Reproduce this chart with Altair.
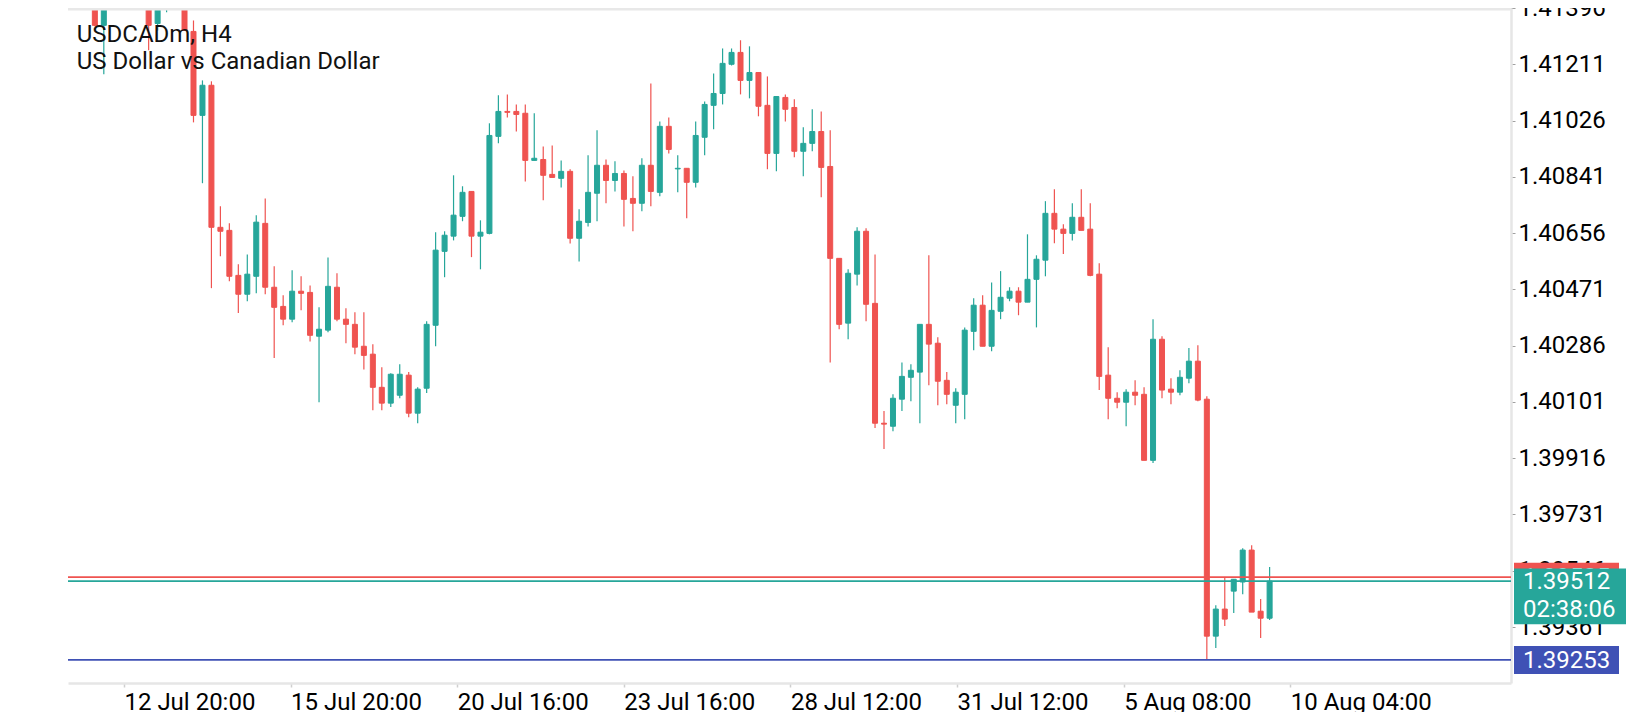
import altair as alt
import pandas as pd

symbol = "USDCADm, H4"
description = "US Dollar vs Canadian Dollar"

# OHLC in points (1 point = 0.00001)
opens = [141487, 141339, 141454, 141552, 141493, 141579, 141447, 141345, 141441, 141506,
         141441, 141319, 141043, 141142, 140675, 140665, 140517, 140455, 140514, 140688,
         140478, 140415, 140373, 140465, 140461, 140317, 140337, 140478, 140373, 140356,
         140284, 140258, 140149, 140097, 140123, 140189, 140064, 140146, 140353, 140596,
         140646, 140711, 140793, 140646, 140655, 140974, 141056, 141056, 141050, 140895,
         140898, 140849, 140836, 140859, 140639, 140691, 140787, 140879, 140829, 140852,
         140770, 140754, 140879, 140790, 141007, 140867, 140869, 140823, 140971, 141076,
         141115, 141211, 141250, 141158, 141184, 141076, 140918, 141102, 141069, 140925,
         140951, 140990, 140875, 140573, 140360, 140521, 140662, 140425, 140031, 140021,
         140110, 140182, 140199, 140356, 140294, 140172, 140090, 140126, 140333, 140419,
         140284, 140399, 140442, 140465, 140429, 140504, 140567, 140721, 140669, 140655,
         140708, 140669, 140521, 140189, 140113, 140100, 140133, 140126, 139909, 140307,
         140143, 140133, 140179, 140235, 140110, 139331, 139420, 139479, 139509, 139614,
         139413, 139390]
highs = [141513, 141493, 141585, 141592, 141618, 141605, 141467, 141467, 141533, 141526,
         141460, 141355, 141158, 141155, 140744, 140688, 140554, 140586, 140715, 140770,
         140547, 140452, 140534, 140514, 140484, 140412, 140576, 140524, 140409, 140396,
         140396, 140291, 140215, 140195, 140225, 140199, 140149, 140366, 140659, 140662,
         140846, 140810, 140793, 140698, 141017, 141109, 141112, 141079, 141079, 141050,
         140941, 140944, 140895, 140866, 140734, 140912, 140994, 140898, 140892, 140862,
         140843, 140902, 141148, 141023, 141036, 140912, 140869, 141023, 141089, 141181,
         141263, 141263, 141290, 141270, 141184, 141171, 141105, 141112, 141096, 141004,
         141063, 141056, 140994, 140573, 140537, 140675, 140672, 140586, 140071, 140126,
         140231, 140225, 140356, 140583, 140314, 140199, 140146, 140346, 140442, 140452,
         140494, 140531, 140478, 140478, 140652, 140583, 140761, 140800, 140685, 140754,
         140800, 140754, 140557, 140281, 140133, 140143, 140172, 140149, 140373, 140317,
         140179, 140205, 140278, 140287, 140120, 139433, 139522, 139518, 139620, 139630,
         139453, 139558]
lows = [141336, 141178, 141441, 141460, 141480, 141434, 141257, 141322, 141382, 141428,
        141322, 141020, 140820, 140475, 140580, 140498, 140393, 140432, 140458, 140455,
        140245, 140353, 140363, 140402, 140300, 140100, 140330, 140366, 140294, 140258,
        140208, 140074, 140074, 140084, 140113, 140051, 140031, 140130, 140284, 140511,
        140632, 140695, 140577, 140537, 140652, 140951, 141036, 140990, 140826, 140895,
        140764, 140839, 140806, 140622, 140563, 140678, 140695, 140754, 140793, 140678,
        140662, 140728, 140744, 140777, 140918, 140790, 140705, 140806, 140912, 140997,
        141079, 141207, 141112, 141099, 141040, 140866, 140859, 141023, 140905, 140843,
        140925, 140774, 140231, 140340, 140307, 140484, 140366, 140015, 139946, 140005,
        140071, 140103, 140031, 140156, 140090, 140093, 140031, 140044, 140271, 140284,
        140268, 140373, 140432, 140386, 140429, 140346, 140514, 140623, 140587, 140632,
        140665, 140514, 140140, 140044, 140080, 140021, 140090, 139909, 139900, 140113,
        140093, 140123, 140162, 140103, 139253, 139292, 139364, 139407, 139469, 139410,
        139325, 139384]
closes = [141339, 141460, 141552, 141493, 141579, 141447, 141339, 141441, 141506, 141441,
          141322, 141043, 141142, 140675, 140662, 140514, 140455, 140521, 140692, 140478,
          140412, 140373, 140465, 140458, 140320, 140340, 140481, 140373, 140356, 140281,
          140254, 140149, 140097, 140192, 140192, 140064, 140143, 140356, 140600, 140649,
          140715, 140790, 140646, 140659, 140977, 141056, 141053, 141046, 140895, 140902,
          140846, 140839, 140859, 140639, 140695, 140790, 140879, 140829, 140852, 140767,
          140754, 140879, 140793, 141007, 140931, 140869, 140823, 140977, 141079, 141115,
          141214, 141250, 141158, 141184, 141073, 140918, 141105, 141063, 140925, 140951,
          140990, 140872, 140573, 140356, 140524, 140662, 140422, 140031, 140028, 140113,
          140185, 140205, 140356, 140291, 140169, 140126, 140133, 140337, 140419, 140284,
          140402, 140445, 140465, 140429, 140504, 140570, 140721, 140669, 140655, 140708,
          140665, 140517, 140185, 140113, 140100, 140133, 140123, 139909, 140307, 140140,
          140133, 140182, 140235, 140107, 139331, 139420, 139387, 139518, 139614, 139410,
          139390, 139512]

time_labels = ["12 Jul 20:00", "15 Jul 20:00", "20 Jul 16:00", "23 Jul 16:00",
               "28 Jul 12:00", "31 Jul 12:00", "5 Aug 08:00", "10 Aug 04:00"]
price_ticks = [1.41396, 1.41211, 1.41026, 1.40841, 1.40656, 1.40471,
               1.40286, 1.40101, 1.39916, 1.39731, 1.39546, 1.39361]
ask_price = 1.39525
bid_price = 1.39512
low_price = 1.39253
bar_timer = "02:38:06"

UP = "#26a69a"
DOWN = "#ef5350"
BLUE = "#3f51b5"
GRID = "#e6e6e6"
FONT = "Roboto"

n = len(opens)
df = pd.DataFrame({
    "i": list(range(n)),
    "open": [v / 1e5 for v in opens],
    "high": [v / 1e5 for v in highs],
    "low": [v / 1e5 for v in lows],
    "close": [v / 1e5 for v in closes],
})
df["dir"] = ["up" if c >= o else "down" for o, c in zip(df["open"], df["close"])]

W, H = 1443, 675
x_scale = alt.Scale(domain=[-2.436, 157.36], nice=False, zero=False)
y_scale = alt.Scale(domain=[1.39177, 1.41396], nice=False, zero=False)
color_scale = alt.Scale(domain=["up", "down"], range=[UP, DOWN])

tick_start, tick_step = 3.245, 18.58
tick_pos = [round(tick_start + tick_step * k, 3) for k in range(len(time_labels))]
label_array = "[" + ",".join("'" + s + "'" for s in time_labels) + "]"
label_expr = f"{label_array}[round((datum.value - {tick_start}) / {tick_step})]"

x_axis = alt.Axis(values=tick_pos, labelExpr=label_expr, grid=False, title="",
                  domainColor=GRID, domainWidth=2.5, tickColor="#cfcfcf", tickSize=4,
                  tickWidth=1.5, labelFont=FONT, labelFontSize=24, labelColor="#000000",
                  labelAlign="left", labelBaseline="alphabetic", labelPadding=22,
                  labelOverlap=False, labelFlush=False)
y_axis = alt.Axis(orient="right", values=price_ticks, format=".5f", grid=False, title="",
                  domainColor=GRID, domainWidth=2.5, tickColor="#a0a0a0", tickSize=4,
                  labelFont=FONT, labelFontSize=24, labelColor="#000000", labelPadding=3,
                  labelAlign="left", labelBaseline="middle", labelOverlap=False,
                  labelFlush=False)

base = alt.Chart(df)
wicks = base.mark_rule(strokeWidth=1.2, clip=True).encode(
    x=alt.X("i:Q", scale=x_scale, axis=x_axis),
    y=alt.Y("low:Q", scale=y_scale, axis=y_axis),
    y2="high:Q",
    color=alt.Color("dir:N", scale=color_scale, legend=None),
)
bodies = base.mark_bar(size=5, strokeWidth=1, clip=True).encode(
    x=alt.X("i:Q", scale=x_scale, title=""),
    y=alt.Y("open:Q", scale=y_scale, title=""),
    y2="close:Q",
    color=alt.Color("dir:N", scale=color_scale, legend=None),
    stroke=alt.Stroke("dir:N", scale=color_scale, legend=None),
)


def price_line(price, color):
    d = pd.DataFrame({"price": [price]})
    return alt.Chart(d).mark_rule(strokeWidth=1.6, color=color).encode(
        y=alt.Y("price:Q", scale=y_scale, title=""))


ask_line = price_line(ask_price, DOWN)
bid_line = price_line(bid_price, UP)
low_line = price_line(low_price, BLUE)

top_border = alt.Chart(pd.DataFrame({"k": [0]})).mark_rule(
    color="#e8e8e8", strokeWidth=2.5).encode(
    x=alt.value(0), x2=alt.value(W), y=alt.value(1.2))

title1 = alt.Chart(pd.DataFrame({"t": [symbol]})).mark_text(
    align="left", baseline="alphabetic", font=FONT, fontSize=24, color="#111111").encode(
    x=alt.value(8.7), y=alt.value(33.7), text="t:N")
title2 = alt.Chart(pd.DataFrame({"t": [description]})).mark_text(
    align="left", baseline="alphabetic", font=FONT, fontSize=24, color="#111111").encode(
    x=alt.value(8.7), y=alt.value(61.3), text="t:N")


def tag(price, color, x_right, top_off, bottom_off):
    d = pd.DataFrame({"price": [price]})
    return alt.Chart(d).mark_rect(color=color, yOffset=top_off, y2Offset=bottom_off).encode(
        x=alt.value(W + 3), x2=alt.value(x_right),
        y=alt.Y("price:Q", scale=y_scale, title=""), y2="price:Q")


def tag_text(price, text, dy):
    d = pd.DataFrame({"price": [price], "t": [text]})
    return alt.Chart(d).mark_text(align="left", baseline="middle", font=FONT, fontSize=24,
                                  color="white", dy=dy).encode(
        x=alt.value(W + 12), y=alt.Y("price:Q", scale=y_scale, title=""), text="t:N")


ask_tag = tag(ask_price, DOWN, W + 108, -14.4, 14.4)
ask_txt = tag_text(ask_price, f"{ask_price:.5f}", 1)
bid_tag = tag(bid_price, UP, W + 115, -12.5, 43.2)
bid_txt = tag_text(bid_price, f"{bid_price:.5f}", 1)
timer_txt = tag_text(bid_price, bar_timer, 29)
low_tag = tag(low_price, BLUE, W + 108, -14, 14)
low_txt = tag_text(low_price, f"{low_price:.5f}", 1)

chart = alt.layer(
    wicks, bodies, ask_line, bid_line, low_line, top_border, title1, title2,
    ask_tag, ask_txt, bid_tag, bid_txt, timer_txt, low_tag, low_txt,
).properties(
    width=W, height=H,
    padding={"left": 60, "top": 0, "right": 121, "bottom": 29},
    autosize=alt.AutoSizeParams(type="none"),
    background="white",
).configure_view(stroke="transparent")

chart.save("out.html", embed_options={"renderer": "svg", "actions": False})
